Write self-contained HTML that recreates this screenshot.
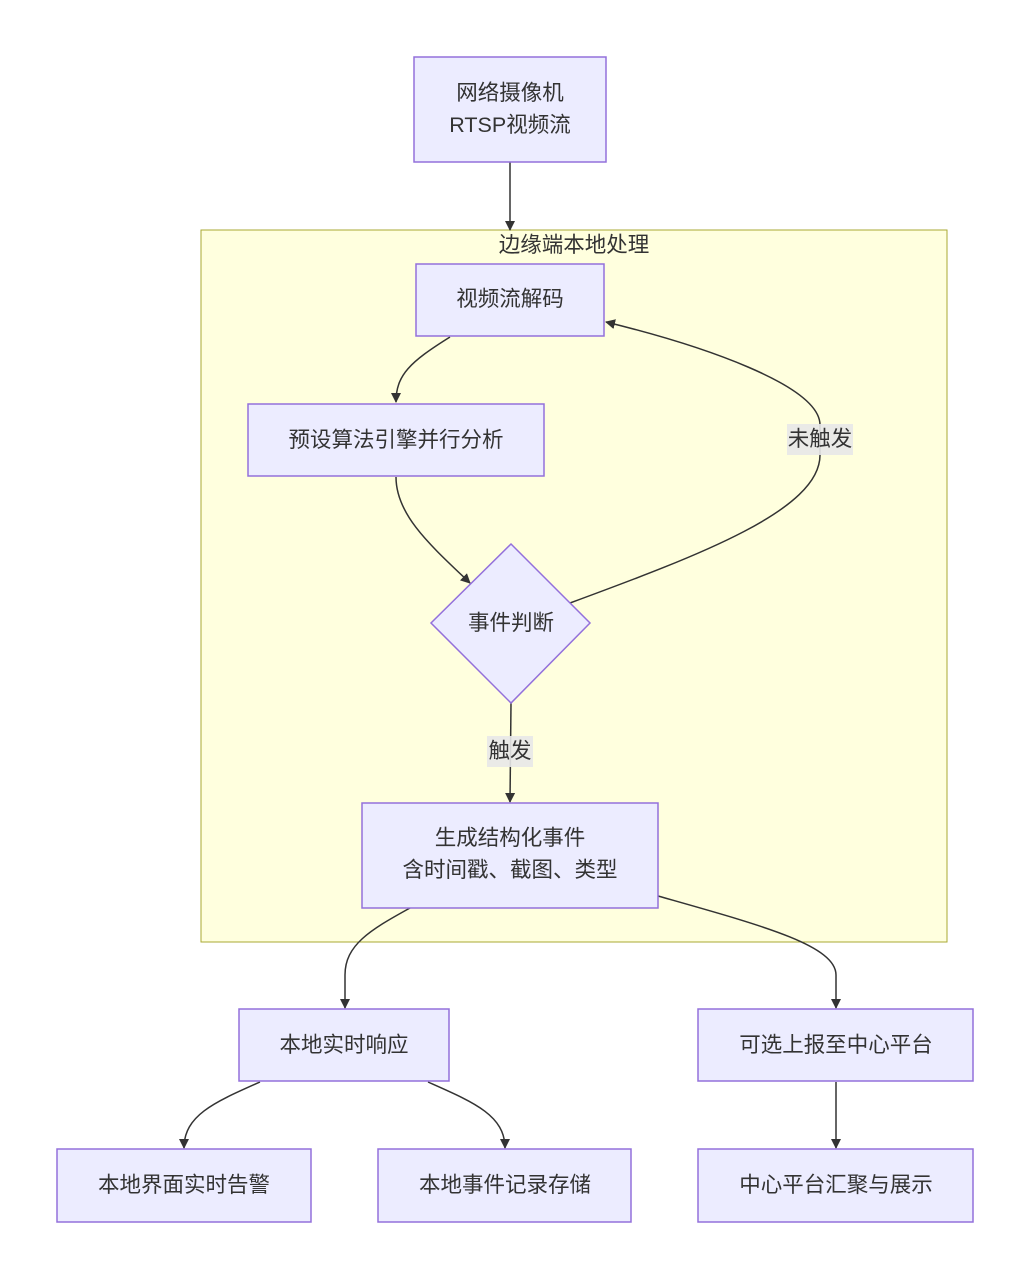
<!DOCTYPE html>
<html><head><meta charset="utf-8"><style>
html,body{margin:0;padding:0;background:#fff;}
svg text{font-family:"Liberation Sans","Noto Sans CJK SC",sans-serif;font-size:21.5px;fill:#333;text-anchor:middle;dominant-baseline:central;}
</style></head><body>
<svg width="1031" height="1280" viewBox="0 0 1031 1280" xmlns="http://www.w3.org/2000/svg">
<defs><marker id="a" markerWidth="10" markerHeight="10" refX="9" refY="5" orient="auto" markerUnits="userSpaceOnUse"><path d="M0,0 L10,5 L0,10 z" fill="#333"/></marker></defs>
<rect x="201" y="230" width="746" height="712" fill="#ffffde" stroke="#aaaa33" stroke-width="1"/>
<text x="574" y="245">边缘端本地处理</text>
<g fill="none" stroke="#333" stroke-width="1.5" marker-end="url(#a)">
<path d="M510,162 L510,230"/>
<path d="M450,337 C410,362 396,375 396,402"/>
<path d="M396,477 C396,515 430,545 470,583"/>
<path d="M570,603 C700,555 820,510 820,455 L820,425 C820,385 700,345 606,322"/>
<path d="M511,703 L510,802"/>
<path d="M410,908 C370,930 345,945 345,975 L345,1008"/>
<path d="M658,896 C760,925 836,945 836,975 L836,1008"/>
<path d="M260,1082 C215,1102 184,1115 184,1148"/>
<path d="M428,1082 C473,1102 505,1115 505,1148"/>
<path d="M836,1082 L836,1148"/>
</g>
<g fill="#ECECFF" stroke="#9370DB" stroke-width="1.5">
<rect x="414" y="57" width="192" height="105"/>
<rect x="416" y="264" width="188" height="72"/>
<rect x="248" y="404" width="296" height="72"/>
<polygon points="511,544 590,623 511,703 431,623"/>
<rect x="362" y="803" width="296" height="105"/>
<rect x="239" y="1009" width="210" height="72"/>
<rect x="698" y="1009" width="275" height="72"/>
<rect x="57" y="1149" width="254" height="73"/>
<rect x="378" y="1149" width="253" height="73"/>
<rect x="698" y="1149" width="275" height="73"/>
</g>
<rect x="787" y="424" width="66" height="31" fill="#e8e8e8" opacity="0.9"/>
<rect x="487" y="736" width="46" height="31" fill="#e8e8e8" opacity="0.9"/>
<text x="510" y="93">网络摄像机</text>
<text x="510" y="125">RTSP视频流</text>
<text x="510" y="299">视频流解码</text>
<text x="396" y="440">预设算法引擎并行分析</text>
<text x="511" y="623">事件判断</text>
<text x="820" y="439">未触发</text>
<text x="510" y="751">触发</text>
<text x="510" y="838">生成结构化事件</text>
<text x="510" y="870">含时间戳、截图、类型</text>
<text x="344" y="1045">本地实时响应</text>
<text x="836" y="1045">可选上报至中心平台</text>
<text x="184" y="1185">本地界面实时告警</text>
<text x="505" y="1185">本地事件记录存储</text>
<text x="836" y="1185">中心平台汇聚与展示</text>
</svg>
</body></html>
